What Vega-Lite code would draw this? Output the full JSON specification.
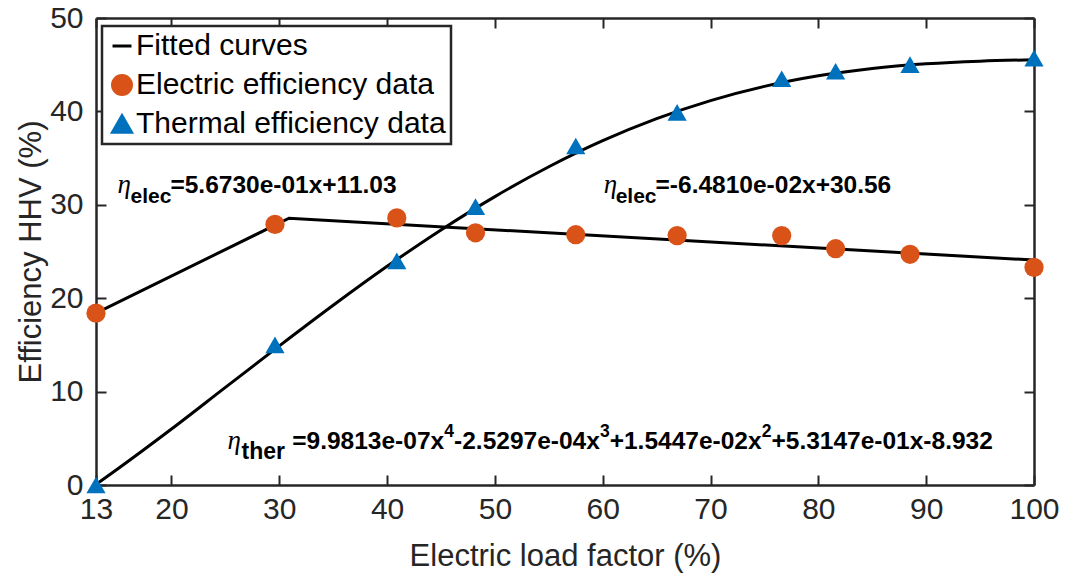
{
  "$schema": "https://vega.github.io/schema/vega-lite/v6.json",
  "width": 938,
  "height": 467,
  "autosize": {"type": "none"},
  "padding": {"left": 96, "top": 18, "right": 33, "bottom": 96},
  "background": "white",
  "config": {
    "view": {"stroke": null},
    "axis": {
      "domainColor": "#262626",
      "domainWidth": 2.5,
      "tickColor": "#262626",
      "tickWidth": 2,
      "tickSize": -10,
      "grid": false,
      "labelFlush": false,
      "labelOverlap": false,
      "labelFont": "Liberation Sans",
      "labelFontSize": 30,
      "labelColor": "#262626",
      "titleFont": "Liberation Sans",
      "titleFontSize": 31,
      "titleFontWeight": "normal",
      "titleColor": "#262626"
    }
  },
  "datasets": {
    "pts": [
      {"x": 13, "y": 18.4, "series": "Electric efficiency data"},
      {"x": 29.6, "y": 27.9, "series": "Electric efficiency data"},
      {"x": 40.9, "y": 28.6, "series": "Electric efficiency data"},
      {"x": 48.2, "y": 27.0, "series": "Electric efficiency data"},
      {"x": 57.5, "y": 26.8, "series": "Electric efficiency data"},
      {"x": 66.9, "y": 26.7, "series": "Electric efficiency data"},
      {"x": 76.6, "y": 26.7, "series": "Electric efficiency data"},
      {"x": 81.6, "y": 25.3, "series": "Electric efficiency data"},
      {"x": 88.5, "y": 24.7, "series": "Electric efficiency data"},
      {"x": 100, "y": 23.3, "series": "Electric efficiency data"},
      {"x": 13, "y": 0.0, "series": "Thermal efficiency data"},
      {"x": 29.6, "y": 15.0, "series": "Thermal efficiency data"},
      {"x": 40.9, "y": 24.0, "series": "Thermal efficiency data"},
      {"x": 48.2, "y": 29.8, "series": "Thermal efficiency data"},
      {"x": 57.5, "y": 36.3, "series": "Thermal efficiency data"},
      {"x": 66.9, "y": 39.9, "series": "Thermal efficiency data"},
      {"x": 76.6, "y": 43.5, "series": "Thermal efficiency data"},
      {"x": 81.6, "y": 44.3, "series": "Thermal efficiency data"},
      {"x": 88.5, "y": 45.0, "series": "Thermal efficiency data"},
      {"x": 100, "y": 45.7, "series": "Thermal efficiency data"}
    ],
    "fit": [
      {"x": 13, "y": 18.40, "curve": "elec", "series": "Fitted curves"},
      {"x": 30.9, "y": 28.56, "curve": "elec", "series": "Fitted curves"},
      {"x": 100, "y": 24.08, "curve": "elec", "series": "Fitted curves"},
      {"x": 13, "y": 0.06, "curve": "ther", "series": "Fitted curves"},
      {"x": 15, "y": 1.71, "curve": "ther", "series": "Fitted curves"},
      {"x": 20, "y": 5.99, "curve": "ther", "series": "Fitted curves"},
      {"x": 25, "y": 10.45, "curve": "ther", "series": "Fitted curves"},
      {"x": 30, "y": 14.89, "curve": "ther", "series": "Fitted curves"},
      {"x": 35, "y": 19.24, "curve": "ther", "series": "Fitted curves"},
      {"x": 40, "y": 23.41, "curve": "ther", "series": "Fitted curves"},
      {"x": 45, "y": 27.31, "curve": "ther", "series": "Fitted curves"},
      {"x": 50, "y": 30.88, "curve": "ther", "series": "Fitted curves"},
      {"x": 55, "y": 34.07, "curve": "ther", "series": "Fitted curves"},
      {"x": 60, "y": 36.86, "curve": "ther", "series": "Fitted curves"},
      {"x": 65, "y": 39.22, "curve": "ther", "series": "Fitted curves"},
      {"x": 70, "y": 41.16, "curve": "ther", "series": "Fitted curves"},
      {"x": 75, "y": 42.68, "curve": "ther", "series": "Fitted curves"},
      {"x": 80, "y": 43.81, "curve": "ther", "series": "Fitted curves"},
      {"x": 85, "y": 44.60, "curve": "ther", "series": "Fitted curves"},
      {"x": 90, "y": 45.09, "curve": "ther", "series": "Fitted curves"},
      {"x": 95, "y": 45.38, "curve": "ther", "series": "Fitted curves"},
      {"x": 100, "y": 45.53, "curve": "ther", "series": "Fitted curves"}
    ],
    "ann": [
      {"part": "eta", "x": 15.0, "y": 31.3, "text": "η"},
      {"part": "sub", "x": 16.2, "y": 30.2, "text": "elec"},
      {"part": "eq", "x": 19.9, "y": 31.3, "text": "=5.6730e-01x+11.03"},
      {"part": "eta", "x": 60.1, "y": 31.3, "text": "η"},
      {"part": "sub", "x": 61.2, "y": 30.2, "text": "elec"},
      {"part": "eq", "x": 64.9, "y": 31.3, "text": "=-6.4810e-02x+30.56"},
      {"part": "eta", "x": 25.2, "y": 3.9, "text": "η"},
      {"part": "subther", "x": 26.5, "y": 2.8, "text": "ther"},
      {"part": "eq", "x": 31.2, "y": 3.9, "text": "=9.9813e-07x"},
      {"part": "sup", "x": 45.31, "y": 5.1, "text": "4"},
      {"part": "eq", "x": 46.21, "y": 3.9, "text": "-2.5297e-04x"},
      {"part": "sup", "x": 59.74, "y": 5.1, "text": "3"},
      {"part": "eq", "x": 60.64, "y": 3.9, "text": "+1.5447e-02x"},
      {"part": "sup", "x": 74.75, "y": 5.1, "text": "2"},
      {"part": "eq", "x": 75.65, "y": 3.9, "text": "+5.3147e-01x-8.932"}
    ]
  },
  "resolve": {"axis": {"x": "independent", "y": "independent"}},
  "layer": [
    {
      "data": {"name": "fit"},
      "transform": [{"filter": "datum.curve === 'elec'"}],
      "mark": {"type": "line", "strokeWidth": 3, "interpolate": "linear"},
      "encoding": {
        "x": {"field": "x", "type": "quantitative",
              "scale": {"domain": [13, 100], "nice": false, "zero": false},
              "axis": {"orient": "bottom", "values": [13, 20, 30, 40, 50, 60, 70, 80, 90, 100], "title": "Electric load factor (%)", "labelPadding": 19, "titlePadding": 17}},
        "y": {"field": "y", "type": "quantitative",
              "scale": {"domain": [0, 50], "nice": false, "zero": false},
              "axis": {"orient": "left", "values": [0, 10, 20, 30, 40, 50], "title": "Efficiency HHV (%)", "labelPadding": 23, "titlePadding": 2}},
        "color": {"field": "series", "type": "nominal",
                  "scale": {"domain": ["Fitted curves", "Electric efficiency data", "Thermal efficiency data"], "range": ["#000000", "#D95319", "#0072BD"]},
                  "legend": {
                    "title": null, "orient": "none", "legendX": 6, "legendY": 8,
                    "strokeColor": "#262626", "fillColor": "white", "padding": 5,
                    "labelFont": "Liberation Sans", "labelFontSize": 30, "labelColor": "#000000",
                    "symbolSize": 360, "rowPadding": 8, "labelOffset": -1, "labelLimit": 500,
                    "encode": {"symbols": {"update": {"stroke": {"scale": "color", "field": "value"}, "strokeWidth": {"value": 3}}}, "legend": {"update": {"strokeWidth": {"value": 2.5}}}}
                  }},
        "detail": {"field": "curve"}
      }
    },
    {
      "data": {"name": "fit"},
      "transform": [{"filter": "datum.curve === 'ther'"}],
      "mark": {"type": "line", "strokeWidth": 3, "interpolate": "monotone"},
      "encoding": {
        "x": {"field": "x", "type": "quantitative", "axis": null},
        "y": {"field": "y", "type": "quantitative", "axis": null},
        "color": {"field": "series", "type": "nominal"},
        "detail": {"field": "curve"}
      }
    },
    {
      "data": {"name": "pts"},
      "mark": {"type": "point", "filled": true, "opacity": 1, "size": 370},
      "encoding": {
        "x": {"field": "x", "type": "quantitative",
              "axis": {"orient": "top", "values": [13, 20, 30, 40, 50, 60, 70, 80, 90, 100], "labels": false, "title": null}},
        "y": {"field": "y", "type": "quantitative",
              "axis": {"orient": "right", "values": [0, 10, 20, 30, 40, 50], "labels": false, "title": null}},
        "color": {"field": "series", "type": "nominal"},
        "shape": {"field": "series", "type": "nominal",
                  "scale": {"domain": ["Fitted curves", "Electric efficiency data", "Thermal efficiency data"], "range": ["stroke", "circle", "triangle-up"]}}
      }
    },
    {
      "data": {"name": "ann"},
      "transform": [{"filter": "datum.part === 'eta'"}],
      "mark": {"type": "text", "align": "left", "baseline": "alphabetic", "font": "Liberation Serif", "fontStyle": "italic", "fontSize": 27, "color": "#000000"},
      "encoding": {
        "x": {"field": "x", "type": "quantitative", "axis": null},
        "y": {"field": "y", "type": "quantitative", "axis": null},
        "text": {"field": "text"}
      }
    },
    {
      "data": {"name": "ann"},
      "transform": [{"filter": "datum.part === 'sub'"}],
      "mark": {"type": "text", "align": "left", "baseline": "alphabetic", "font": "Liberation Sans", "fontWeight": "bold", "fontSize": 21, "color": "#000000"},
      "encoding": {
        "x": {"field": "x", "type": "quantitative", "axis": null},
        "y": {"field": "y", "type": "quantitative", "axis": null},
        "text": {"field": "text"}
      }
    },
    {
      "data": {"name": "ann"},
      "transform": [{"filter": "datum.part === 'subther'"}],
      "mark": {"type": "text", "align": "left", "baseline": "alphabetic", "font": "Liberation Sans", "fontWeight": "bold", "fontSize": 23, "color": "#000000"},
      "encoding": {
        "x": {"field": "x", "type": "quantitative", "axis": null},
        "y": {"field": "y", "type": "quantitative", "axis": null},
        "text": {"field": "text"}
      }
    },
    {
      "data": {"name": "ann"},
      "transform": [{"filter": "datum.part === 'sup'"}],
      "mark": {"type": "text", "align": "left", "baseline": "alphabetic", "font": "Liberation Sans", "fontWeight": "bold", "fontSize": 17.5, "color": "#000000"},
      "encoding": {
        "x": {"field": "x", "type": "quantitative", "axis": null},
        "y": {"field": "y", "type": "quantitative", "axis": null},
        "text": {"field": "text"}
      }
    },
    {
      "data": {"name": "ann"},
      "transform": [{"filter": "datum.part === 'eq'"}],
      "mark": {"type": "text", "align": "left", "baseline": "alphabetic", "font": "Liberation Sans", "fontWeight": "bold", "fontSize": 24.5, "color": "#000000"},
      "encoding": {
        "x": {"field": "x", "type": "quantitative", "axis": null},
        "y": {"field": "y", "type": "quantitative", "axis": null},
        "text": {"field": "text"}
      }
    }
  ]
}
